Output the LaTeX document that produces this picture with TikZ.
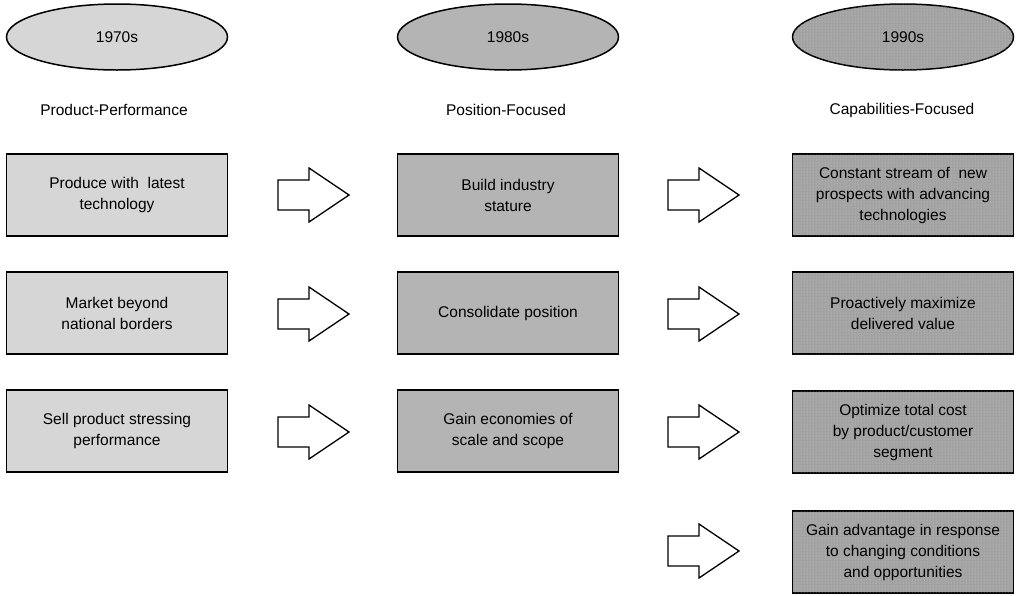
\documentclass[tikz,border=0pt]{standalone}
\usepackage{fontspec}
\setmainfont{Liberation Sans}
\usetikzlibrary{shapes.geometric,patterns}
\definecolor{eraA}{HTML}{D6D6D6}
\definecolor{eraB}{HTML}{B4B4B4}
\definecolor{eraC}{HTML}{A2A2A2}
\tikzset{
  txt/.style={font=\fontsize{15.5}{21}\selectfont, align=center, inner sep=0pt},
  era/.style={ellipse, draw=black, line width=1.5pt, minimum width=221pt, minimum height=66pt, inner sep=0pt, font=\fontsize{15.5}{19}\selectfont},
  stagebox/.style={draw=black, line width=1.8pt, minimum width=221pt, minimum height=82pt, inner sep=2pt, align=center, font=\fontsize{15.5}{21}\selectfont},
  fillA/.style={fill=eraA},
  fillB/.style={fill=eraB},
  fillC/.style={fill=eraC, postaction={pattern=dots, pattern color=white!45!eraC}},
  arrowline/.style={draw=black, line width=1.3pt, fill=white, line join=miter},
  fatarrow/.pic={\path[arrowline] (0,-15) -- (31,-15) -- (31,-27) -- (71,0) -- (31,27) -- (31,15) -- (0,15) -- cycle;}
}
\begin{document}
\begin{tikzpicture}[x=1pt, y=-1pt]
\useasboundingbox (0,0) rectangle (1016,595);
\fill[white] (0,0) rectangle (1016,595);

% decade ellipses
\node[era, fillA] (e1) at (117,37) {1970s};
\node[era, fillB] (e2) at (508,37) {1980s};
\node[era, fillC] (e3) at (903,37) {1990s};

% column headings
\node[txt] (h1) at (114,110) {Product-Performance};
\node[txt] (h2) at (506,110) {Position-Focused};
\node[txt] (h3) at (902,110) {Capabilities-Focused};

% 1970s stages
\node[stagebox, fillA] (a1) at (117,195) {Produce with\ \ latest\\technology};
\node[stagebox, fillA] (a2) at (117,313) {Market beyond\\national borders};
\node[stagebox, fillA] (a3) at (117,431) {Sell product stressing\\performance};

% 1980s stages
\node[stagebox, fillB] (b1) at (508,195) {Build industry\\stature};
\node[stagebox, fillB] (b2) at (508,313) {Consolidate position};
\node[stagebox, fillB] (b3) at (508,431) {Gain economies of\\scale and scope};

% 1990s stages
\node[stagebox, fillC] (c1) at (903,195) {Constant stream of\ \ new\\prospects with advancing\\technologies};
\node[stagebox, fillC] (c2) at (903,313) {Proactively maximize\\delivered value};
\node[stagebox, fillC] (c3) at (903,432) {Optimize total cost\\by product/customer\\segment};
\node[stagebox, fillC] (c4) at (903,552) {Gain advantage in response\\to changing conditions\\and opportunities};

% block arrows between the columns
\coordinate (p1) at (278,195);
\coordinate (p2) at (278,314);
\coordinate (p3) at (278,432);
\coordinate (q1) at (668,195);
\coordinate (q2) at (668,314);
\coordinate (q3) at (668,432);
\coordinate (q4) at (668,551);
\foreach \p in {p1,p2,p3,q1,q2,q3,q4} { \pic at (\p) {fatarrow}; }
\end{tikzpicture}
\end{document}
